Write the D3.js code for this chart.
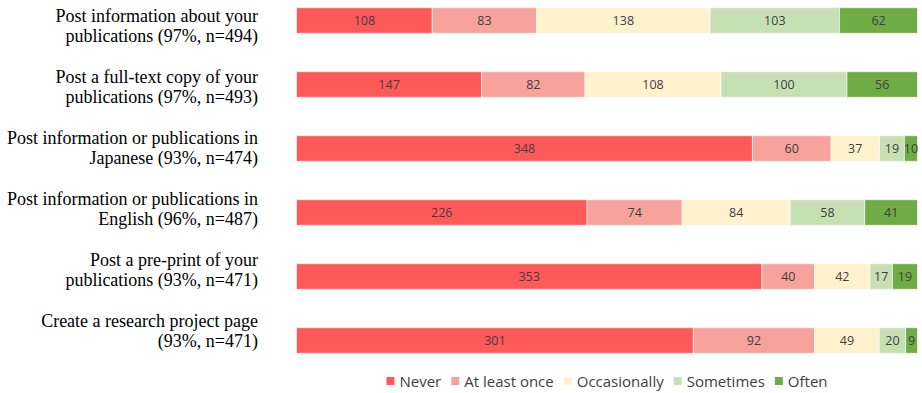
<!DOCTYPE html>
<html>
<head>
<meta charset="utf-8">
<script src="https://cdn.jsdelivr.net/npm/d3@7"></script>
<style>
  html, body { margin: 0; padding: 0; background: #fff; }
  svg { display: block; }
</style>
</head>
<body>
<svg id="chart" width="922" height="393"></svg>
<script>
// Survey items (two-line labels) and response counts per frequency
const itemLine1 = [
  "Post information about your",
  "Post a full-text copy of your",
  "Post information or publications in",
  "Post information or publications in",
  "Post a pre-print of your",
  "Create a research project page"
];
const itemLine2 = [
  "publications (97%, n=494)",
  "publications (97%, n=493)",
  "Japanese (93%, n=474)",
  "English (96%, n=487)",
  "publications (93%, n=471)",
  "(93%, n=471)"
];
const responses = ["Never", "At least once", "Occasionally", "Sometimes", "Often"];
const never        = [108, 147, 348, 226, 353, 301];
const atLeastOnce  = [83, 82, 60, 74, 40, 92];
const occasionally = [138, 108, 37, 84, 42, 49];
const sometimes    = [103, 100, 19, 58, 17, 20];
const often        = [62, 56, 10, 41, 19, 9];
const colors = ["#FF5A5A", "#F8A29C", "#FFF2CC", "#C6E0B4", "#6FAC46"];

const seriesValues = [never, atLeastOnce, occasionally, sometimes, often];
const rows = itemLine1.map((t, i) => {
  const r = { id: i };
  responses.forEach((k, j) => { r[k] = seriesValues[j][i]; });
  return r;
});

const svg = d3.select("#chart");

// 100% stacked layout
const stacked = d3.stack().keys(responses).offset(d3.stackOffsetExpand)(rows);

const x = d3.scaleLinear().domain([0, 1]).range([296.5, 917.5]);
const y = d3.scaleBand()
  .domain(rows.map(d => d.id))
  .range([-11.5, 372.5])
  .paddingInner(0.6)
  .paddingOuter(0.3);

// category labels sit on their own evenly spaced baselines
const labelY = d3.scalePoint()
  .domain(rows.map(d => d.id))
  .range([21.6, 327]);

const color = d3.scaleOrdinal().domain(responses).range(colors);

const layers = svg.append("g")
  .selectAll("g")
  .data(stacked)
  .join("g")
  .attr("fill", d => color(d.key));

layers.selectAll("rect")
  .data(d => d)
  .join("rect")
  .attr("x", d => x(d[0]))
  .attr("width", d => x(d[1]) - x(d[0]))
  .attr("y", d => y(d.data.id))
  .attr("height", y.bandwidth())
  .attr("stroke", "rgba(255,255,255,0.6)")
  .attr("stroke-width", 1);

// value labels centred in each segment
const valueLabels = svg.append("g")
  .attr("font-family", "'Open Sans', 'Noto Sans', sans-serif")
  .attr("font-size", 12.5)
  .attr("fill", "#404040")
  .attr("text-anchor", "middle");

stacked.forEach(layer => {
  valueLabels.selectAll(null)
    .data(layer)
    .join("text")
    .attr("x", d => (x(d[0]) + x(d[1])) / 2)
    .attr("y", d => y(d.data.id) + y.bandwidth() / 2 + 4.5)
    .text(d => d.data[layer.key]);
});

// category labels
const cats = svg.append("g")
  .attr("font-family", "'Liberation Serif', 'Times New Roman', serif")
  .attr("font-size", 18)
  .attr("fill", "#000")
  .attr("text-anchor", "end");

cats.selectAll("text")
  .data(rows)
  .join("text")
  .attr("x", 258)
  .attr("y", d => labelY(d.id))
  .each(function (d) {
    const t = d3.select(this);
    t.append("tspan").attr("x", 258).text(itemLine1[d.id]);
    t.append("tspan").attr("x", 258).attr("dy", 20).text(itemLine2[d.id]);
  });

// legend
const legend = svg.append("g")
  .attr("font-family", "'Open Sans', 'Noto Sans', sans-serif")
  .attr("font-size", 15)
  .attr("fill", "#404040");

const items = legend.selectAll("g")
  .data(responses)
  .join("g");

items.append("rect")
  .attr("width", 8)
  .attr("height", 8)
  .attr("y", 377)
  .attr("fill", d => color(d));

items.append("text")
  .attr("x", 13)
  .attr("y", 387)
  .text(d => d);

let cursor = 0;
const offsets = [];
items.each(function () {
  offsets.push(cursor);
  const w = d3.select(this).select("text").node().getComputedTextLength();
  cursor += 13 + w + 10;
});
const total = cursor - 10;
const startX = (x(0) + x(1)) / 2 - total / 2;
items.attr("transform", (d, i) => `translate(${startX + offsets[i]},0)`);
</script>
</body>
</html>
